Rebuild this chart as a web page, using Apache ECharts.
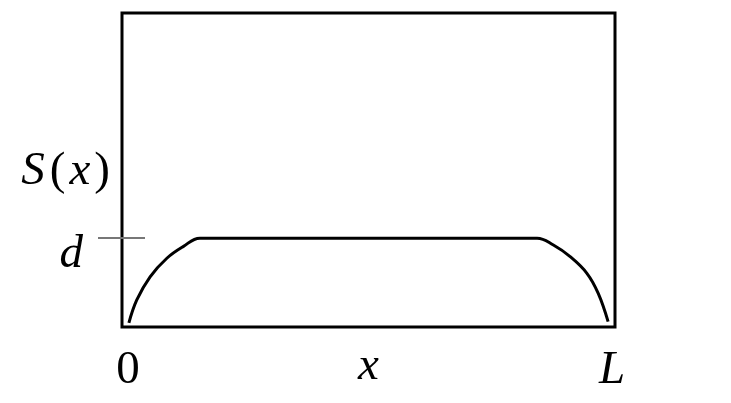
<!DOCTYPE html>
<html><head><meta charset="utf-8">
<script src="https://cdn.jsdelivr.net/npm/echarts@6/dist/echarts.min.js"></script>
<style>html,body{margin:0;padding:0;background:#fff}#c{width:731px;height:403px}</style>
</head><body><div id="c"></div>
<script>
// profile S(x) (x as a fraction of L, S as a fraction of the box height)
const xValues = [0.014, 0.030, 0.057, 0.091, 0.124, 0.158, 0.842, 0.875, 0.909, 0.943, 0.966, 0.986];
const sValues = [0.013, 0.086, 0.160, 0.219, 0.256, 0.283, 0.283, 0.261, 0.224, 0.171, 0.107, 0.017];
const dLevel = 0.283;
const xTickValues = [0, 1];
const xTickLabels = ['0', 'L'];
const yTickLabels = ['d'];

const FONT = 'Liberation Serif';
const FS = 47;
const chart = echarts.init(document.getElementById('c'));
chart.setOption({
  animation: false,
  grid: { left: 122, top: 13, right: 116, bottom: 76, outerBoundsMode: 'none', containLabel: false,
          show: true, borderColor: '#000', borderWidth: 3, backgroundColor: 'transparent' },
  xAxis: {
    type: 'value', min: 0, max: 1,
    axisLine: { show: false }, axisTick: { show: false }, splitLine: { show: false },
    axisLabel: {
      customValues: xTickValues, margin: 20,
      formatter: v => v === 0 ? '{n|' + xTickLabels[0] + '}' : '{l|' + xTickLabels[1] + '}',
      rich: {
        n: { fontFamily: FONT, fontSize: FS, color: '#000', padding: [0, 0, 0, 12] },
        l: { fontFamily: FONT, fontSize: FS, fontStyle: 'italic', color: '#000', padding: [0, 6, 0, 0] }
      }
    },
    name: 'x', nameLocation: 'middle', nameGap: 16, nameMoveOverlap: false,
    nameTextStyle: { fontFamily: FONT, fontSize: FS, fontStyle: 'italic', color: '#000', verticalAlign: 'top' }
  },
  yAxis: [{
    type: 'value', min: 0, max: 1,
    axisLine: { show: false }, splitLine: { show: false },
    axisTick: { show: true, customValues: [dLevel], inside: false, length: 24, lineStyle: { color: '#777', width: 2 } },
    axisLabel: {
      customValues: [dLevel], margin: 39,
      formatter: () => '{d|' + yTickLabels[0] + '}',
      rich: { d: { fontFamily: FONT, fontSize: FS, fontStyle: 'italic', color: '#000', padding: [34, 0, 0, 0] } }
    },
    name: '{s|S}{p|(}{v|x}{p|)}', nameLocation: 'middle', nameRotate: 0, nameGap: 12, nameMoveOverlap: false,
    nameTextStyle: {
      align: 'right', verticalAlign: 'middle', padding: [4, 0, 0, 0],
      rich: {
        s: { fontFamily: FONT, fontSize: FS, fontStyle: 'italic', color: '#000', padding: [0, 5, 0, 0] },
        v: { fontFamily: FONT, fontSize: FS, fontStyle: 'italic', color: '#000', padding: [0, 4, 0, 4] },
        p: { fontFamily: FONT, fontSize: FS, color: '#000' }
      }
    }
  }, {
    type: 'value', min: 0, max: 1, position: 'left',
    axisLine: { show: false }, splitLine: { show: false }, axisLabel: { show: false },
    axisTick: { show: true, customValues: [dLevel], inside: true, length: 23, lineStyle: { color: '#777', width: 2 } }
  }],
  series: [{
    type: 'line',
    data: xValues.map((x, i) => [x, sValues[i]]),
    smooth: 0.4,
    showSymbol: false,
    lineStyle: { color: '#000', width: 3 }
  }]
});
</script></body></html>
